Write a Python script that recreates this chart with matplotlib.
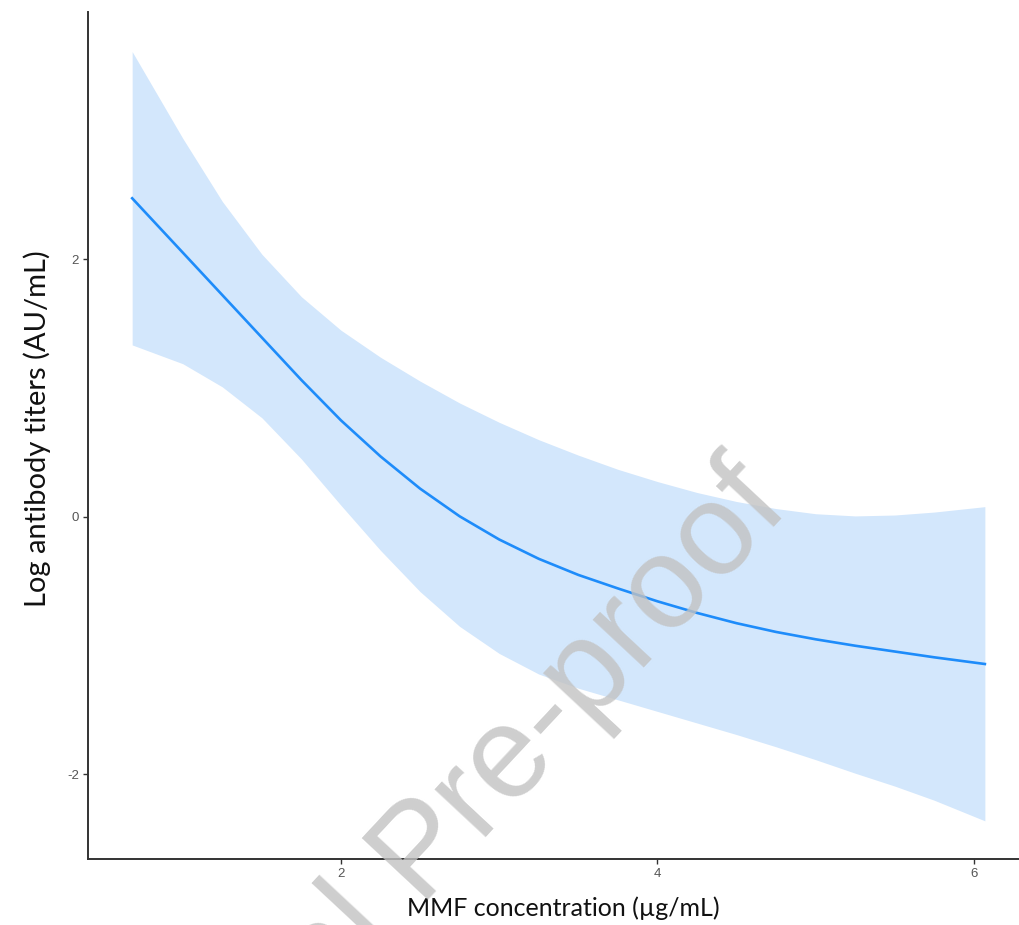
import matplotlib.pyplot as plt
import numpy as np

plt.rcParams['axes.unicode_minus'] = False

# MMF 농도별 항체 역가 (적합선 + 95% 신뢰구간)
mmf = [0.68, 1.0, 1.25, 1.5, 1.75, 2.0, 2.25, 2.5, 2.75, 3.0, 3.25, 3.5,
       3.75, 4.0, 4.25, 4.5, 4.75, 5.0, 5.25, 5.5, 5.75, 6.07]
fit = [2.475, 2.053, 1.723, 1.393, 1.063, 0.75, 0.47, 0.22, 0.005, -0.175, -0.325, -0.45,
       -0.555, -0.655, -0.745, -0.825, -0.893, -0.95, -1.0, -1.045, -1.09, -1.142]
upper = [3.614, 2.94, 2.45, 2.04, 1.71, 1.45, 1.24, 1.055, 0.885, 0.735, 0.60, 0.48,
         0.37, 0.275, 0.19, 0.12, 0.065, 0.025, 0.008, 0.015, 0.038, 0.08]
lower = [1.336, 1.19, 1.01, 0.77, 0.45, 0.09, -0.26, -0.58, -0.85, -1.06, -1.22, -1.33,
         -1.42, -1.51, -1.60, -1.69, -1.785, -1.885, -1.99, -2.09, -2.20, -2.36]

x_ticks = [2, 4, 6]
y_ticks = [-2, 0, 2]

fig = plt.figure(figsize=(10.2, 9.25), dpi=100)
ax = fig.add_axes([0.0863, 0.0714, 0.9216, 0.9157])

ax.fill_between(mmf, lower, upper, color='#D3E7FC', linewidth=0)   # 신뢰구간
ax.plot(mmf, fit, color='#1E8CFA', linewidth=1.9)                    # 적합선

ax.set_xlim(0.401, 6.343)
ax.set_ylim(-2.656, 3.922)
ax.set_xticks(x_ticks)
ax.set_yticks(y_ticks)

for s in ['top', 'right']:
    ax.spines[s].set_visible(False)
for s in ['left', 'bottom']:
    ax.spines[s].set_color('#333333')
    ax.spines[s].set_linewidth(1.4)

ax.tick_params(length=3.5, width=1.0, color='#333333', labelcolor='#555555',
               labelsize=9.5, pad=3)
for lab in ax.get_xticklabels() + ax.get_yticklabels():
    lab.set_family('Liberation Sans')

ax.set_xlabel('MMF concentration (µg/mL)', fontsize=18, family='Lato', color='#111111')
ax.set_ylabel('Log antibody titers (AU/mL)', fontsize=21, family='Lato', color='#111111')
ax.xaxis.label.set_va('center')
ax.yaxis.label.set_va('center')
ax.xaxis.set_label_coords(0.506, -0.058)
ax.yaxis.set_label_coords(-0.054, 0.508)

# 워터마크
fig.text(0.102, -0.348, 'Journal Pre-proof', fontsize=94, family='Liberation Sans',
         color='#C2C2C2', alpha=0.8, rotation=47, rotation_mode='anchor',
         ha='left', va='baseline')

plt.savefig('out.png', dpi=100)
